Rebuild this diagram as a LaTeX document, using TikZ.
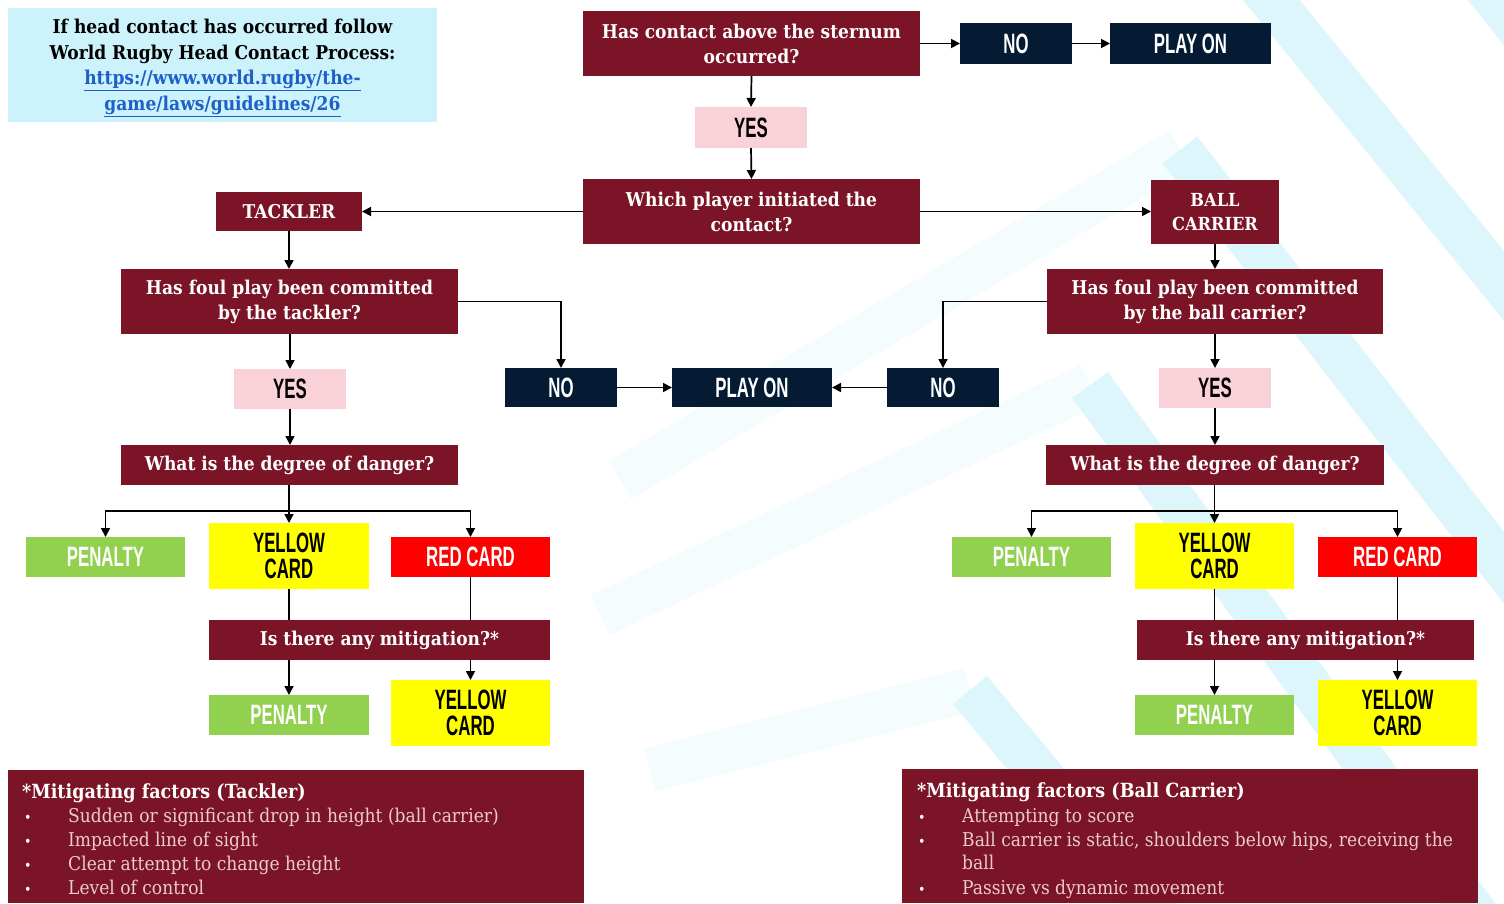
\documentclass[tikz,border=0pt]{standalone}
\usepackage{fontspec}
\setmainfont{DejaVu Serif}[FakeStretch=0.9]
\newfontfamily\condfont{Liberation Sans}[FakeStretch=0.6]
\usetikzlibrary{arrows.meta}
\definecolor{maroon}{HTML}{7B1426}
\definecolor{navy}{HTML}{041B33}
\definecolor{pinkbox}{HTML}{F9D1D8}
\definecolor{greenbox}{HTML}{92D050}
\definecolor{yellowbox}{HTML}{FFFF00}
\definecolor{redbox}{HTML}{FF0000}
\definecolor{infobox}{HTML}{CCF2FC}
\definecolor{linkblue}{HTML}{1F5FC8}
\definecolor{itemtext}{HTML}{EBCBD0}
\definecolor{stripe}{HTML}{DDF6FC}
\definecolor{stripelight}{HTML}{F5FCFE}
\newcommand\qtext{\bfseries\fontsize{19}{25}\selectfont}
\newcommand\ctext{\condfont\bfseries\fontsize{28}{26}\selectfont}
\tikzset{
  base/.style={inner sep=0pt, outer sep=0pt, align=center},
  qbox/.style={base, fill=maroon, text=white, font=\qtext},
  nbox/.style={base, fill=navy, text=white, font=\ctext},
  ybox/.style={base, fill=pinkbox, text=black, font=\ctext},
  penbox/.style={base, fill=greenbox, text=white, font=\ctext},
  yelbox/.style={base, fill=yellowbox, text=black, font=\ctext},
  redcbox/.style={base, fill=redbox, text=white, font=\ctext},
  arr/.style={line width=1.7pt, -{Triangle[length=9pt,width=9pt]}},
  ln/.style={line width=1.7pt},
  band/.style={line width=44pt, stripe},
  bandl/.style={line width=44pt, stripelight},
  fline/.style={anchor=base west, inner sep=0pt, font=\fontsize{19}{24}\selectfont, text=itemtext},
  ftitle/.style={anchor=base west, inner sep=0pt, font=\bfseries\fontsize{19.5}{24}\selectfont, text=white},
}
\newcommand\bul{\makebox[44pt][l]{\textcolor{white}{\fontsize{14}{14}\selectfont\textbullet}}}
\begin{document}
\begin{tikzpicture}[x=1pt,y=-1pt]
\useasboundingbox (0,0) rectangle (1504,903);
\fill[white] (0,0) rectangle (1504,903);
% background stripes
\draw[bandl] (620,480) -- (1180,150);
\draw[band] (1180,150) -- (1560,640);
\draw[bandl] (600,615) -- (1090,385);
\draw[band] (1090,385) -- (1480,920);
\draw[bandl] (650,770) -- (970,690);
\draw[band] (970,690) -- (1170,930);
\draw[band] (1255,-20) -- (1540,330);
\draw[band] (1480,-20) -- (1540,55);

% info box
\node[base, fill=infobox, minimum width=429, minimum height=114] (info) at (222.5,65) {};
\node[base, font=\bfseries\fontsize{19}{25.5}\selectfont] (infotext) at (222.5,68)
  {If head contact has occurred follow\\World Rugby Head Contact Process:\\
   \textcolor{linkblue}{\underline{https://www.world.rugby/the-}}\\
   \textcolor{linkblue}{\underline{game/laws/guidelines/26}}};

% top flow
\node[qbox, minimum width=337, minimum height=65] (q1) at (751.5,43.5) {Has contact above the sternum\\occurred?};
\node[nbox, minimum width=112, minimum height=41] (no1) at (1016,43.5) {NO};
\node[nbox, minimum width=161, minimum height=41] (play1) at (1190.5,43.5) {PLAY ON};
\node[ybox, minimum width=112, minimum height=41] (yes1) at (751,127.5) {YES};
\node[qbox, minimum width=337, minimum height=65] (q2) at (751.5,211.5) {Which player initiated the\\contact?};
\node[qbox, minimum width=146, minimum height=39] (tack) at (289,211.5) {TACKLER};
\node[qbox, minimum width=128, minimum height=64, font=\bfseries\fontsize{18}{24}\selectfont] (bc) at (1215,212) {BALL\\CARRIER};
\node[qbox, minimum width=337, minimum height=65] (foulT) at (289.5,301.5) {Has foul play been committed\\by the tackler?};
\node[qbox, minimum width=336, minimum height=65] (foulB) at (1215,301.5) {Has foul play been committed\\by the ball carrier?};
\node[nbox, minimum width=112, minimum height=39] (noL) at (561,387.5) {NO};
\node[nbox, minimum width=160, minimum height=39] (playM) at (752,387.5) {PLAY ON};
\node[nbox, minimum width=112, minimum height=39] (noR) at (943,387.5) {NO};
\node[ybox, minimum width=112, minimum height=40] (yesL) at (290,389) {YES};
\node[ybox, minimum width=112, minimum height=40] (yesR) at (1215,388) {YES};
\node[qbox, minimum width=337, minimum height=40] (dangL) at (289.5,465) {What is the degree of danger?};
\node[qbox, minimum width=338, minimum height=40] (dangR) at (1215,465) {What is the degree of danger?};

% left outcomes
\node[penbox, minimum width=159, minimum height=40] (penL) at (105.5,557) {PENALTY};
\node[yelbox, minimum width=160, minimum height=66] (yelL) at (289,556) {YELLOW\\CARD};
\node[redcbox, minimum width=159, minimum height=40] (redL) at (470.5,557) {RED CARD};
\node[qbox, minimum width=341, minimum height=40] (mitL) at (379.5,640) {Is there any mitigation?*};
\node[penbox, minimum width=160, minimum height=40] (pen2L) at (289,715) {PENALTY};
\node[yelbox, minimum width=159, minimum height=66] (yel2L) at (470.5,713) {YELLOW\\CARD};

% right outcomes
\node[penbox, minimum width=159, minimum height=40] (penR) at (1031.5,557) {PENALTY};
\node[yelbox, minimum width=159, minimum height=66] (yelR) at (1214.5,556) {YELLOW\\CARD};
\node[redcbox, minimum width=159, minimum height=40] (redR) at (1397.5,557) {RED CARD};
\node[qbox, minimum width=337, minimum height=40] (mitR) at (1305.5,640) {Is there any mitigation?*};
\node[penbox, minimum width=159, minimum height=40] (pen2R) at (1214.5,715) {PENALTY};
\node[yelbox, minimum width=159, minimum height=66] (yel2R) at (1397.5,713) {YELLOW\\CARD};

% mitigating factor boxes
\node[base, fill=maroon, minimum width=576, minimum height=133, anchor=north west] (factL) at (8,770) {};
\node[ftitle] (ftL) at (22,798) {*Mitigating factors (Tackler)};
\node[fline] (fl1) at (24,822) {\bul Sudden or significant drop in height (ball carrier)};
\node[fline] (fl2) at (24,846) {\bul Impacted line of sight};
\node[fline] (fl3) at (24,870) {\bul Clear attempt to change height};
\node[fline] (fl4) at (24,894) {\bul Level of control};

\node[base, fill=maroon, minimum width=576, minimum height=134, anchor=north west] (factR) at (902,769) {};
\node[ftitle] (ftR) at (917,797) {*Mitigating factors (Ball Carrier)};
\node[fline] (fr1) at (918,822) {\bul Attempting to score};
\node[fline] (fr2) at (918,846) {\bul Ball carrier is static, shoulders below hips, receiving the};
\node[fline] (fr3) at (962,869) {ball};
\node[fline] (fr4) at (918,894) {\bul Passive vs dynamic movement};

% connectors
\draw[arr] (q1.east) -- (no1.west);
\draw[arr] (no1.east) -- (play1.west);
\draw[arr] (q1.south) -- (yes1.north);
\draw[arr] (yes1.south) -- (q2.north);
\draw[arr] (q2.west) -- (tack.east);
\draw[arr] (q2.east) -- (q2.east -| bc.west);
\draw[arr] (tack.south) -- (tack.south |- foulT.north);
\draw[arr] (bc.south) -- (foulB.north);
\draw[arr] (foulT.east) -| (noL.north);
\draw[arr] (foulB.west) -| (noR.north);
\draw[arr] (noL.east) -- (playM.west);
\draw[arr] (noR.west) -- (playM.east);
\draw[arr] (foulT.south -| yesL.north) -- (yesL.north);
\draw[arr] (yesL.south) -- (yesL.south |- dangL.north);
\draw[arr] (foulB.south) -- (yesR.north);
\draw[arr] (yesR.south) -- (dangR.north);

\coordinate (brL) at (289,511);
\draw[arr] (dangL.south -| yelL.north) -- (yelL.north);
\draw[arr] (brL) -| (penL.north);
\draw[arr] (brL) -| (redL.north);
\draw[ln] (yelL.south) -- (yelL.south |- mitL.north);
\draw[ln] (redL.south) -- (redL.south |- mitL.north);
\draw[arr] (mitL.south -| pen2L.north) -- (pen2L.north);
\draw[arr] (mitL.south -| yel2L.north) -- (yel2L.north);

\coordinate (brR) at (1215,511);
\draw[arr] (dangR.south -| yelR.north) -- (yelR.north);
\draw[arr] (brR) -| (penR.north);
\draw[arr] (brR) -| (redR.north);
\draw[ln] (yelR.south) -- (yelR.south |- mitR.north);
\draw[ln] (redR.south) -- (redR.south |- mitR.north);
\draw[arr] (mitR.south -| pen2R.north) -- (pen2R.north);
\draw[arr] (mitR.south -| yel2R.north) -- (yel2R.north);
\end{tikzpicture}
\end{document}
